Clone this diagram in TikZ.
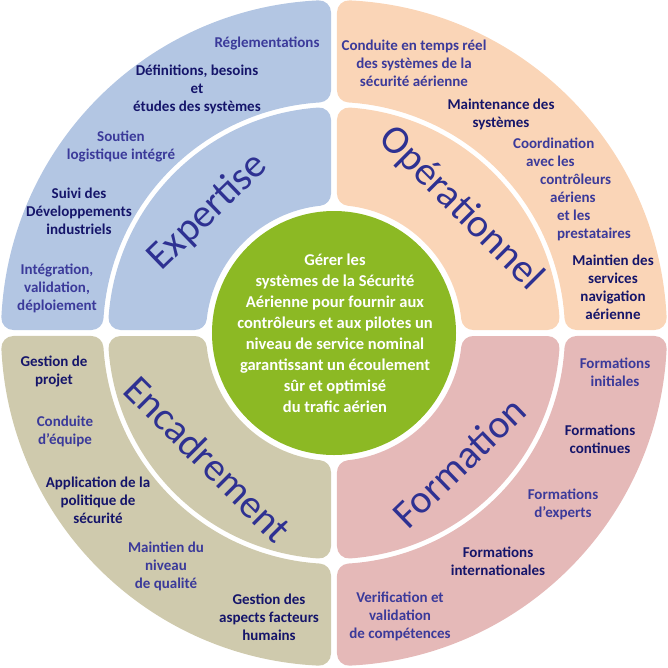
\documentclass[tikz,border=0pt]{standalone}
\usepackage{fontspec}
\setmainfont{Carlito}
\definecolor{cBlue}{HTML}{B3C6E3}
\definecolor{cPeach}{HTML}{FAD5B7}
\definecolor{cTan}{HTML}{CFCAAD}
\definecolor{cPink}{HTML}{E5B9B8}
\definecolor{cGreen}{HTML}{8CB924}
\definecolor{navyD}{HTML}{15156A}
\definecolor{navyM}{HTML}{3B3A9A}
\definecolor{titleC}{HTML}{2E3192}
% #1 xscale, #2 yscale, #3 inner radius, #4 outer radius, #5 colour
\newcommand{\qband}[5]{%
  \begin{scope}[xscale=#1,yscale=#2]
    \filldraw[fill=#5,draw=#5,line width=24pt,line join=round]
      ({acos(15/(#4-12))}:{#4-12})
      arc[start angle={acos(15/(#4-12))},end angle={asin(15/(#4-12))},radius={#4-12}]
      -- ({asin(15/(#3+12))}:{#3+12})
      arc[start angle={asin(15/(#3+12))},end angle={acos(15/(#3+12))},radius={#3+12}]
      -- cycle;
  \end{scope}}
\tikzset{
  item/.style={align=center,inner sep=0pt,font=\fontsize{15}{18}\selectfont\bfseries},
  dk/.style={item,text=navyD},
  md/.style={item,text=navyM},
  bigtitle/.style={inner sep=0pt,text=titleC,font=\fontsize{40}{48}\selectfont},
}
\begin{document}
\begin{tikzpicture}[x=1pt,y=1pt]
\useasboundingbox (-334,-334) rectangle (334,333);
% bands
\qband{-1}{1}{231}{333}{cBlue}
\qband{-1}{1}{128}{226}{cBlue}
\qband{1}{1}{231}{333}{cPeach}
\qband{1}{1}{128}{226}{cPeach}
\qband{-1}{-1}{231}{333}{cTan}
\qband{-1}{-1}{128}{226}{cTan}
\qband{1}{-1}{231}{333}{cPink}
\qband{1}{-1}{128}{226}{cPink}
% centre
\node (core) [circle,fill=cGreen,minimum size=244pt,inner sep=0pt] at (0,0) {};
\node (coretext) [align=center,inner sep=0pt,text=white,font=\fontsize{16.5}{21}\selectfont\bfseries] at (1,-0.5)
  {Gérer les\\systèmes de la Sécurité\\Aérienne pour fournir aux\\contrôleurs et aux pilotes un\\niveau de service nominal\\garantissant un écoulement\\sûr et optimisé\\du trafic aérien};
% titles
\node (t1) [bigtitle,rotate=44] at (-126,121) {Expertise};
\node (t2) [bigtitle,rotate=-45] at (127,124) {Opérationnel};
\node (t3) [bigtitle,rotate=-45] at (-126,-126) {Encadrement};
\node (t4) [bigtitle,rotate=44] at (125,-129) {Formation};
% Expertise
\node (e1) [md] at (-67,290) {Réglementations};
\node (e2) [dk] at (-137,244) {Définitions, besoins\\et\\études des systèmes};
\node (e3) [md] at (-213,187) {Soutien\\logistique intégré};
\node (e4) [dk] at (-255,122) {Suivi des\\Développements\\industriels};
\node (e5) [md] at (-277,45) {Intégration,\\validation,\\déploiement};
% Operationnel
\node (o1) [md] at (80,270) {Conduite en temps réel\\des systèmes de la\\sécurité aérienne};
\node (o2) [dk] at (167,219) {Maintenance des\\systèmes};
\node (o3) [md,align=left] at (238,144) {Coordination\\\hspace*{13pt}avec les\\\hspace*{27pt}contrôleurs\\\hspace*{37pt}aériens\\\hspace*{44pt}et les\\\hspace*{44pt}prestataires};
\node (o4) [dk] at (279,46) {Maintien des\\services\\navigation\\aérienne};
% Encadrement
\node (n1) [dk] at (-280,-38) {Gestion de\\projet};
\node (n2) [md] at (-269,-98) {Conduite\\d’équipe};
\node (n3) [dk] at (-236,-167) {Application de la\\politique de\\sécurité};
\node (n4) [md] at (-168,-233) {Maintien du\\niveau\\de qualité};
\node (n5) [dk] at (-65,-284) {Gestion des\\aspects facteurs\\humains};
% Formation
\node (f1) [md] at (281,-39) {Formations\\initiales};
\node (f2) [dk] at (266,-106) {Formations\\continues};
\node (f3) [md] at (229,-171) {Formations\\d’experts};
\node (f4) [dk] at (164,-228) {Formations\\internationales};
\node (f5) [md] at (66,-283) {Verification et\\validation\\de compétences};
\end{tikzpicture}
\end{document}
